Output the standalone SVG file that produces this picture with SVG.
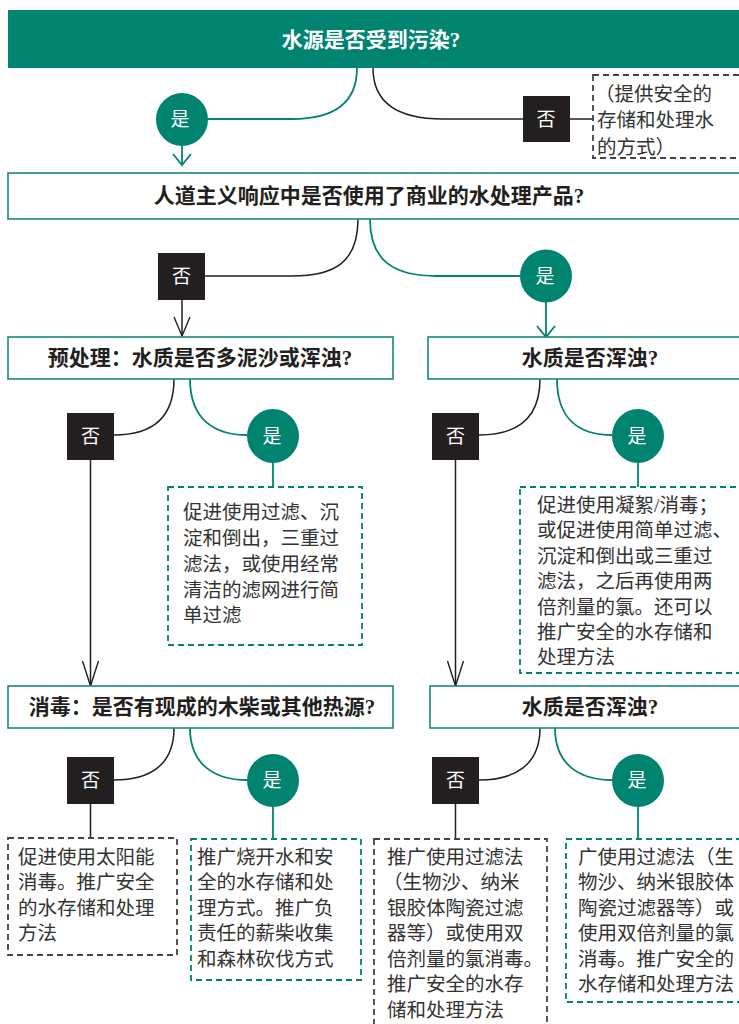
<svg xmlns="http://www.w3.org/2000/svg" width="739" height="1024" viewBox="0 0 739 1024">
<style>
text{font-family:"Liberation Serif","Noto Sans CJK SC",serif;}
.h{font-size:21px;font-weight:bold;fill:#231f20;text-anchor:middle;}
.ht{font-size:21px;font-weight:bold;fill:#ffffff;text-anchor:middle;}
.b{font-size:19.5px;fill:#333333;}
.lbl{font-size:19px;fill:#ffffff;text-anchor:middle;}
.qbox{fill:#ffffff;stroke:#1a8a78;stroke-width:1.6;}
.dg{fill:#ffffff;stroke:#444444;stroke-width:1.8;stroke-dasharray:6 4;}
.dt{fill:#ffffff;stroke:#00836f;stroke-width:1.8;stroke-dasharray:6 4;}
.no{fill:#231f20;}
.yes{fill:#00836f;}
.ck{fill:none;stroke:#231f20;stroke-width:1.5;}
.ct{fill:none;stroke:#00836f;stroke-width:1.8;}
</style>
<defs>
<marker id="arrTS" markerUnits="userSpaceOnUse" markerWidth="30" markerHeight="30" viewBox="-15 -15 30 30" refX="0" refY="0" orient="auto" overflow="visible">
<path d="M-11,-9 L0,0 L-11,9" fill="none" stroke="#00836f" stroke-width="1.8"/>
</marker>
<marker id="arrM" markerUnits="userSpaceOnUse" markerWidth="40" markerHeight="40" viewBox="-20 -20 40 40" refX="0" refY="0" orient="auto" overflow="visible">
<path d="M-19,-8 L0,0 L-19,8" fill="none" stroke="#231f20" stroke-width="1.4"/>
</marker>
<marker id="arrL" markerUnits="userSpaceOnUse" markerWidth="60" markerHeight="60" viewBox="-30 -30 60 60" refX="0" refY="0" orient="auto" overflow="visible">
<path d="M-25,-8 L0,0 L-25,8" fill="none" stroke="#231f20" stroke-width="1.4"/>
</marker>
</defs>

<g id="connectors">
<path class="ct" d="M357,68 C357,105 332,119 292,119 H208"/>
<path class="ct" d="M182,146 V165" marker-end="url(#arrTS)"/>
<path class="ck" d="M373,68 C373,105 400,119 443,119 H523"/>
<path class="ck" d="M570,119 H593"/>

<path class="ck" d="M358,219 C358,262 335,276 292,276 H205"/>
<path class="ck" d="M182,300 V336" marker-end="url(#arrM)"/>
<path class="ct" d="M370,219 C370,262 395,276 437,276 H520"/>
<path class="ct" d="M546,302 V337" marker-end="url(#arrTS)"/>

<path class="ck" d="M174,379 C174,420 150,435 114,435"/>
<path class="ct" d="M190,379 C190,420 215,435 247,435"/>
<path class="ck" d="M90.5,460 V686" marker-end="url(#arrL)"/>
<path class="ct" d="M273,463 V487"/>
<path class="ck" d="M540,379 C540,420 515,435 479,435"/>
<path class="ct" d="M557,379 C557,420 580,435 612,435"/>
<path class="ck" d="M455.5,460 V686" marker-end="url(#arrL)"/>
<path class="ct" d="M638,463 V487"/>

<path class="ck" d="M174,728 C174,765 150,780 114,780"/>
<path class="ct" d="M190,728 C190,765 215,780 247,780"/>
<path class="ck" d="M90.5,804 V838"/>
<path class="ct" d="M273,807 V839"/>
<path class="ck" d="M540,728 C540,765 515,780 479,780"/>
<path class="ct" d="M555,728 C555,765 580,780 612,780"/>
<path class="ck" d="M455.5,804 V839"/>
<path class="ct" d="M638,807 V839"/>
</g>

<g id="q1">
<rect x="8" y="10" width="745" height="58" fill="#00836f"/>
<text class="ht" x="371" y="47">水源是否受到污染?</text>
</g>
<g id="q1-yes">
<ellipse class="yes" cx="182" cy="119.5" rx="26" ry="26.5"/>
<text class="lbl" x="180" y="126">是</text>
</g>
<g id="q1-no">
<rect class="no" x="523" y="96" width="47" height="46"/>
<text class="lbl" x="546" y="126">否</text>
</g>
<g id="r0">
<rect class="dg" x="593" y="75" width="160" height="83"/>
<text class="b" x="595" y="101">（提供安全的</text>
<text class="b" x="597" y="127">存储和处理水</text>
<text class="b" x="597" y="154">的方式）</text>
</g>

<g id="q2">
<rect class="qbox" x="8" y="173" width="745" height="46"/>
<text class="h" x="369" y="203">人道主义响应中是否使用了商业的水处理产品?</text>
</g>
<g id="q2-no">
<rect class="no" x="158" y="253" width="47" height="47"/>
<text class="lbl" x="181.5" y="283">否</text>
</g>
<g id="q2-yes">
<ellipse class="yes" cx="546" cy="276" rx="26" ry="26.5"/>
<text class="lbl" x="545" y="283">是</text>
</g>

<g id="q3a">
<rect class="qbox" x="8" y="337" width="385" height="42"/>
<text class="h" x="200" y="365">预处理：水质是否多泥沙或浑浊?</text>
</g>
<g id="q3b">
<rect class="qbox" x="428" y="337" width="325" height="42"/>
<text class="h" x="590" y="365">水质是否浑浊?</text>
</g>

<g id="q3a-no">
<rect class="no" x="67" y="413" width="47" height="47"/>
<text class="lbl" x="90.5" y="443">否</text>
</g>
<g id="q3a-yes">
<ellipse class="yes" cx="273" cy="436" rx="26" ry="27"/>
<text class="lbl" x="272" y="443">是</text>
</g>
<g id="r1">
<rect class="dt" x="168" y="487" width="194" height="158"/>
<text class="b" x="183" y="519">促进使用过滤、沉</text>
<text class="b" x="183" y="545">淀和倒出，三重过</text>
<text class="b" x="183" y="571">滤法，或使用经常</text>
<text class="b" x="183" y="597">清洁的滤网进行简</text>
<text class="b" x="183" y="622">单过滤</text>
</g>

<g id="q3b-no">
<rect class="no" x="432" y="413" width="47" height="47"/>
<text class="lbl" x="455.5" y="443">否</text>
</g>
<g id="q3b-yes">
<ellipse class="yes" cx="638" cy="436" rx="26" ry="27"/>
<text class="lbl" x="637" y="443">是</text>
</g>
<g id="r2">
<rect class="dt" x="520" y="487" width="233" height="186"/>
<text class="b" x="537" y="512">促进使用凝絮/消毒；</text>
<text class="b" x="537" y="537">或促进使用简单过滤、</text>
<text class="b" x="537" y="563">沉淀和倒出或三重过</text>
<text class="b" x="537" y="588">滤法，之后再使用两</text>
<text class="b" x="537" y="614">倍剂量的氯。还可以</text>
<text class="b" x="537" y="639">推广安全的水存储和</text>
<text class="b" x="537" y="664">处理方法</text>
</g>

<g id="q4a">
<rect class="qbox" x="8" y="686" width="385" height="42"/>
<text class="h" x="202" y="714">消毒：是否有现成的木柴或其他热源?</text>
</g>
<g id="q4b">
<rect class="qbox" x="430" y="686" width="323" height="42"/>
<text class="h" x="590" y="714">水质是否浑浊?</text>
</g>

<g id="q4a-no">
<rect class="no" x="67" y="757" width="47" height="47"/>
<text class="lbl" x="90.5" y="787">否</text>
</g>
<g id="q4a-yes">
<ellipse class="yes" cx="273" cy="780.5" rx="26" ry="26.5"/>
<text class="lbl" x="272" y="787">是</text>
</g>
<g id="r3">
<rect class="dg" x="8" y="838" width="169" height="117"/>
<text class="b" x="18" y="864">促进使用太阳能</text>
<text class="b" x="18" y="889">消毒。推广安全</text>
<text class="b" x="18" y="915">的水存储和处理</text>
<text class="b" x="18" y="940">方法</text>
</g>
<g id="r4">
<rect class="dt" x="191" y="839" width="170" height="141"/>
<text class="b" x="197" y="864">推广烧开水和安</text>
<text class="b" x="197" y="889">全的水存储和处</text>
<text class="b" x="197" y="915">理方式。推广负</text>
<text class="b" x="197" y="940">责任的薪柴收集</text>
<text class="b" x="197" y="966">和森林砍伐方式</text>
</g>

<g id="q4b-no">
<rect class="no" x="432" y="757" width="47" height="47"/>
<text class="lbl" x="455.5" y="787">否</text>
</g>
<g id="q4b-yes">
<ellipse class="yes" cx="638" cy="780.5" rx="26" ry="26.5"/>
<text class="lbl" x="637" y="787">是</text>
</g>
<g id="r5">
<rect class="dg" x="374" y="839" width="173" height="200"/>
<text class="b" x="387" y="864">推广使用过滤法</text>
<text class="b" x="383" y="889">（生物沙、纳米</text>
<text class="b" x="387" y="915">银胶体陶瓷过滤</text>
<text class="b" x="387" y="940">器等）或使用双</text>
<text class="b" x="387" y="966">倍剂量的氯消毒。</text>
<text class="b" x="387" y="991">推广安全的水存</text>
<text class="b" x="387" y="1017">储和处理方法</text>
</g>
<g id="r6">
<rect class="dt" x="566" y="839" width="187" height="163"/>
<text class="b" x="578" y="864">广使用过滤法（生</text>
<text class="b" x="578" y="889">物沙、纳米银胶体</text>
<text class="b" x="578" y="915">陶瓷过滤器等）或</text>
<text class="b" x="578" y="940">使用双倍剂量的氯</text>
<text class="b" x="578" y="966">消毒。推广安全的</text>
<text class="b" x="578" y="991">水存储和处理方法</text>
</g>
</svg>
